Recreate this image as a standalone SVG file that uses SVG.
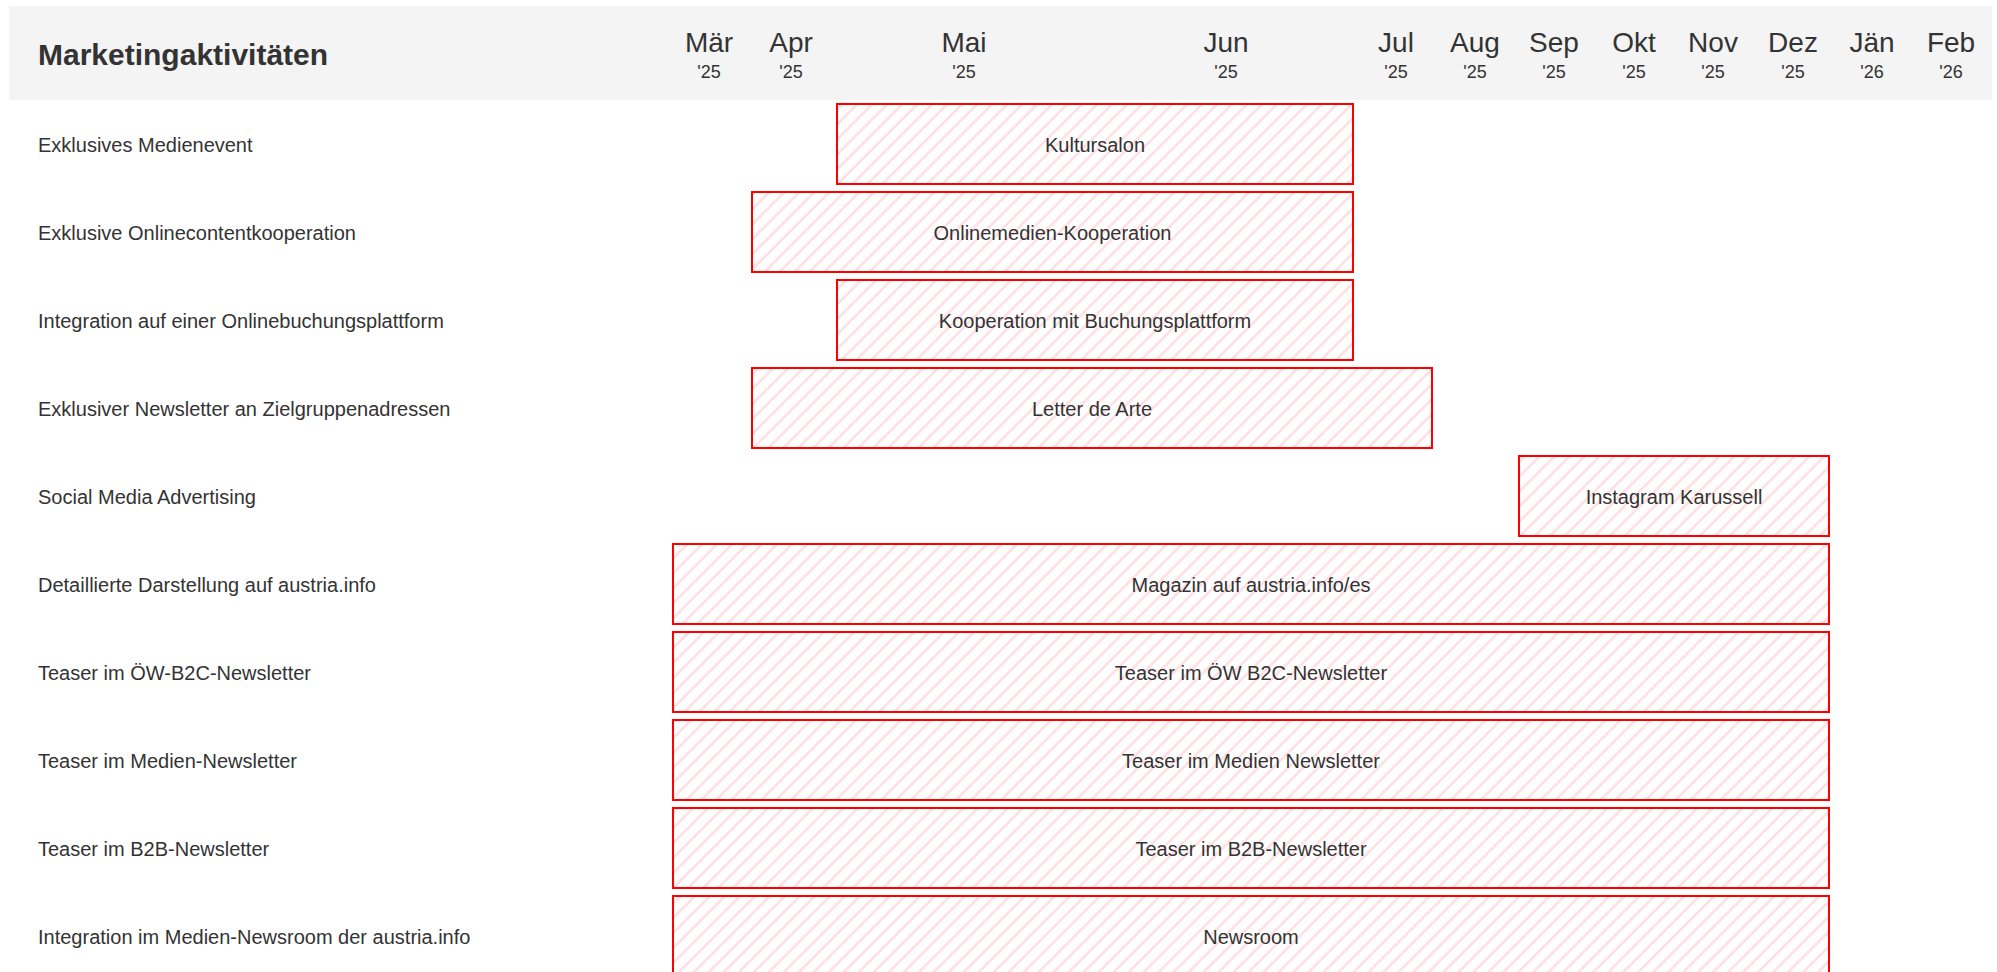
<svg xmlns="http://www.w3.org/2000/svg" width="1997" height="972" viewBox="0 0 1997 972">
<style>
.hdr{fill:#f4f4f4}
.title{font-family:"Liberation Sans",Arial,sans-serif;font-size:30px;font-weight:bold;fill:#333}
.mon{font-family:"Liberation Sans",Arial,sans-serif;font-size:28px;fill:#333;text-anchor:middle}
.yr{font-family:"Liberation Sans",Arial,sans-serif;font-size:18px;fill:#333;text-anchor:middle}
.lbl{font-family:"Liberation Sans",Arial,sans-serif;font-size:20px;fill:#333}
.bar{fill:url(#hatch);stroke:#ff0000;stroke-width:2}
.btxt{font-family:"Liberation Sans",Arial,sans-serif;font-size:20px;fill:#333;text-anchor:middle}
</style>
<defs>
<pattern id="hatch" patternUnits="userSpaceOnUse" width="10.6" height="10.6" patternTransform="rotate(45)">
<rect width="10.6" height="10.6" fill="#ffffff"/>
<line x1="1.5" y1="0" x2="1.5" y2="10.6" stroke="#ffdfe3" stroke-width="2.6"/>
</pattern>
</defs>
<rect width="1997" height="972" fill="#ffffff"/>
<g id="header">
<rect class="hdr" x="9" y="6" width="1983" height="94"/>
<text class="title" x="38" y="65">Marketingaktivitäten</text>
<text class="mon" x="709" y="52">Mär</text><text class="yr" x="709" y="78">'25</text>
<text class="mon" x="791" y="52">Apr</text><text class="yr" x="791" y="78">'25</text>
<text class="mon" x="964" y="52">Mai</text><text class="yr" x="964" y="78">'25</text>
<text class="mon" x="1226" y="52">Jun</text><text class="yr" x="1226" y="78">'25</text>
<text class="mon" x="1396" y="52">Jul</text><text class="yr" x="1396" y="78">'25</text>
<text class="mon" x="1475" y="52">Aug</text><text class="yr" x="1475" y="78">'25</text>
<text class="mon" x="1554" y="52">Sep</text><text class="yr" x="1554" y="78">'25</text>
<text class="mon" x="1634" y="52">Okt</text><text class="yr" x="1634" y="78">'25</text>
<text class="mon" x="1713" y="52">Nov</text><text class="yr" x="1713" y="78">'25</text>
<text class="mon" x="1793" y="52">Dez</text><text class="yr" x="1793" y="78">'25</text>
<text class="mon" x="1872" y="52">Jän</text><text class="yr" x="1872" y="78">'26</text>
<text class="mon" x="1951" y="52">Feb</text><text class="yr" x="1951" y="78">'26</text>
</g>
<g id="row1">
<text class="lbl" x="38" y="152">Exklusives Medienevent</text>
<rect class="bar" x="837" y="104" width="516" height="80"/>
<text class="btxt" x="1095" y="152">Kultursalon</text>
</g>
<g id="row2">
<text class="lbl" x="38" y="240">Exklusive Onlinecontentkooperation</text>
<rect class="bar" x="752" y="192" width="601" height="80"/>
<text class="btxt" x="1052.5" y="240">Onlinemedien-Kooperation</text>
</g>
<g id="row3">
<text class="lbl" x="38" y="328">Integration auf einer Onlinebuchungsplattform</text>
<rect class="bar" x="837" y="280" width="516" height="80"/>
<text class="btxt" x="1095" y="328">Kooperation mit Buchungsplattform</text>
</g>
<g id="row4">
<text class="lbl" x="38" y="416">Exklusiver Newsletter an Zielgruppenadressen</text>
<rect class="bar" x="752" y="368" width="680" height="80"/>
<text class="btxt" x="1092" y="416">Letter de Arte</text>
</g>
<g id="row5">
<text class="lbl" x="38" y="504">Social Media Advertising</text>
<rect class="bar" x="1519" y="456" width="310" height="80"/>
<text class="btxt" x="1674" y="504">Instagram Karussell</text>
</g>
<g id="row6">
<text class="lbl" x="38" y="592">Detaillierte Darstellung auf austria.info</text>
<rect class="bar" x="673" y="544" width="1156" height="80"/>
<text class="btxt" x="1251" y="592">Magazin auf austria.info/es</text>
</g>
<g id="row7">
<text class="lbl" x="38" y="680">Teaser im ÖW-B2C-Newsletter</text>
<rect class="bar" x="673" y="632" width="1156" height="80"/>
<text class="btxt" x="1251" y="680">Teaser im ÖW B2C-Newsletter</text>
</g>
<g id="row8">
<text class="lbl" x="38" y="768">Teaser im Medien-Newsletter</text>
<rect class="bar" x="673" y="720" width="1156" height="80"/>
<text class="btxt" x="1251" y="768">Teaser im Medien Newsletter</text>
</g>
<g id="row9">
<text class="lbl" x="38" y="856">Teaser im B2B-Newsletter</text>
<rect class="bar" x="673" y="808" width="1156" height="80"/>
<text class="btxt" x="1251" y="856">Teaser im B2B-Newsletter</text>
</g>
<g id="row10">
<text class="lbl" x="38" y="944">Integration im Medien-Newsroom der austria.info</text>
<rect class="bar" x="673" y="896" width="1156" height="80"/>
<text class="btxt" x="1251" y="944">Newsroom</text>
</g>
<g id="connectors"></g>
</svg>
